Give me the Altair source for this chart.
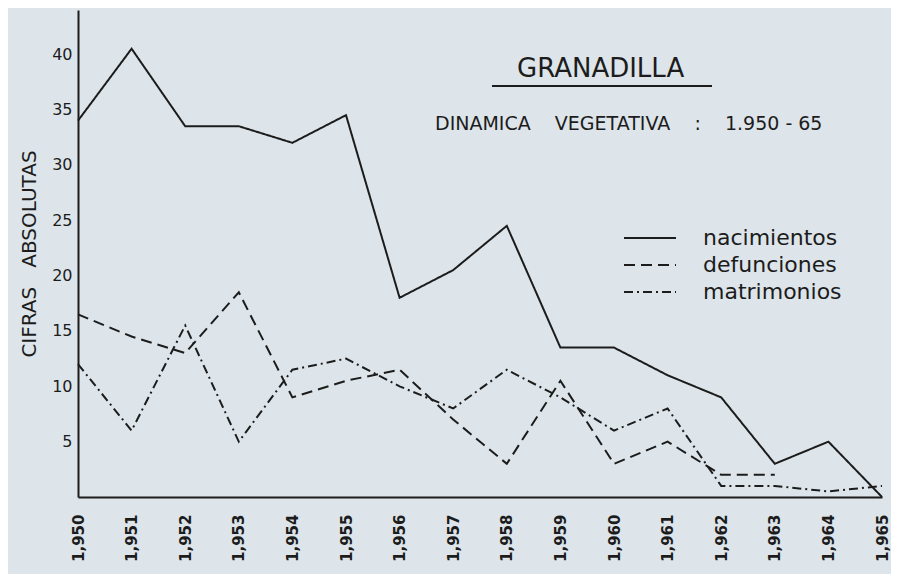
import altair as alt
import pandas as pd

# ---- data ----
years = list(range(1950, 1966))
nacimientos = [34, 40.5, 33.5, 33.5, 32, 34.5, 18, 20.5, 24.5, 13.5, 13.5, 11, 9, 3, 5, 0]
defunciones = [16.5, 14.5, 13, 18.5, 9, 10.5, 11.5, 7, 3, 10.5, 3, 5, 2, 2, None, None]
matrimonios = [12, 6, 15.5, 5, 11.5, 12.5, 10, 8, 11.5, 9, 6, 8, 1, 1, 0.5, 1]

series_names = ["nacimientos", "defunciones", "matrimonios"]
dash_styles = [[1, 0], [11, 6], [9, 4, 2, 4]]
y_ticks = [5, 10, 15, 20, 25, 30, 35, 40]

NB = "\u00a0"
title_text = "GRANADILLA"
subtitle_text = "DINAMICA" + NB * 4 + "VEGETATIVA" + NB * 4 + ":" + NB * 4 + "1.950 - 65"
y_title = "CIFRAS" + NB * 3 + "ABSOLUTAS"

INK = "#1c1c1c"
PAPER = "#dde5ea"
FONT = "DejaVu Sans"

rows = []
for name, vals in zip(series_names, [nacimientos, defunciones, matrimonios]):
    for yr, v in zip(years, vals):
        if v is not None:
            rows.append({"anio": yr, "valor": v, "serie": name})
df = pd.DataFrame(rows)

lines = alt.Chart(df).mark_line(color=INK, strokeWidth=2).encode(
    x=alt.X("anio:Q",
            scale=alt.Scale(domain=[1950, 1965], nice=False, zero=False),
            axis=alt.Axis(values=years, format=",d", labelAngle=-90,
                          labelFont=FONT, labelFontWeight="bold", labelFontSize=15,
                          labelColor=INK, labelPadding=17, ticks=False, grid=False,
                          domainColor=INK, domainWidth=2, title=None)),
    y=alt.Y("valor:Q",
            scale=alt.Scale(domain=[0, 44], nice=False),
            axis=alt.Axis(values=y_ticks, title=y_title, titleFont=FONT,
                          titleFontSize=20, titleFontWeight="normal", titleColor=INK,
                          titlePadding=12,
                          labelFont=FONT, labelFontSize=16, labelColor=INK,
                          labelPadding=6, ticks=False, grid=False,
                          domainColor=INK, domainWidth=2)),
    strokeDash=alt.StrokeDash("serie:N",
                              scale=alt.Scale(domain=series_names, range=dash_styles),
                              legend=alt.Legend(orient="none", legendX=545, legendY=215,
                                                title=None, symbolType="stroke",
                                                symbolSize=2704, symbolStrokeWidth=2,
                                                symbolStrokeColor=INK,
                                                labelFont=FONT, labelFontSize=22,
                                                labelColor=INK, labelOffset=26,
                                                labelLimit=400, rowPadding=1,
                                                clipHeight=26, padding=0)),
    order=alt.Order("anio:Q"),
)

title_df = pd.DataFrame({"t": [title_text]})
title_mark = alt.Chart(title_df).mark_text(
    font=FONT, fontSize=26, color=INK, align="left", baseline="middle"
).encode(text="t:N", x=alt.value(439), y=alt.value(59))

underline = alt.Chart(title_df).mark_rule(color=INK, strokeWidth=2).encode(
    x=alt.value(414), x2=alt.value(634), y=alt.value(76)
)

sub_df = pd.DataFrame({"t": [subtitle_text]})
subtitle_mark = alt.Chart(sub_df).mark_text(
    font=FONT, fontSize=19, color=INK, align="left", baseline="middle"
).encode(text="t:N", x=alt.value(357), y=alt.value(114))

chart = alt.layer(lines, title_mark, underline, subtitle_mark).properties(
    width=804,
    height=487,
    autosize=alt.AutoSizeParams(type="none"),
    padding={"left": 70, "top": 2, "right": 9, "bottom": 77},
    background=PAPER,
).configure_view(stroke=None)

chart.save("out.html", embed_options={"renderer": "svg", "actions": False})
